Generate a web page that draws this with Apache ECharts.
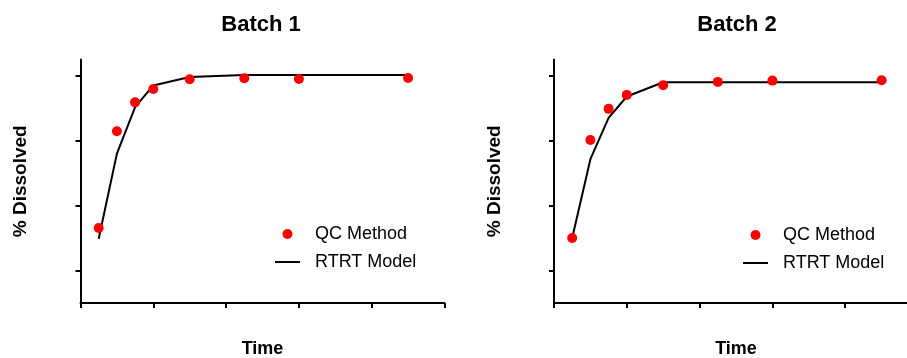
<!DOCTYPE html>
<html>
<head>
<meta charset="utf-8">
<script src="https://cdn.jsdelivr.net/npm/echarts@6/dist/echarts.min.js"></script>
<style>html,body{margin:0;padding:0;background:#fff}#c{width:907px;height:358px}</style>
</head>
<body>
<div id="c"></div>
<script>
var titles = ['Batch 1', 'Batch 2'];
var seriesNames = ['QC Method', 'RTRT Model'];
var time = [5, 10, 15, 20, 30, 45, 60, 90];
var qc1 = [53.1, 82.9, 91.8, 95.9, 98.9, 99.2, 99.0, 99.3];
var model1 = [49.8, 76.0, 90.3, 97.0, 99.6, 100.2, 100.2, 100.2];
var qc2 = [50.0, 80.2, 89.8, 94.1, 97.1, 98.1, 98.5, 98.6];
var model2 = [50.0, 74.3, 87.0, 93.6, 98.0, 98.0, 98.0, 98.0];
var yTicks = [40, 60, 80, 100];
var xLabel = 'Time';
var yLabel = '% Dissolved';

var FONT = '"Liberation Sans", Arial, sans-serif';
function pairs(xs, ys) { return xs.map(function (x, i) { return [x, ys[i]]; }); }

var grids = [
  { left: 80.5, top: 59.5, width: 364, height: 243.5, containLabel: false, outerBoundsMode: 'none' },
  { left: 554, top: 59.5, width: 364, height: 243.5, containLabel: false, outerBoundsMode: 'none' }
];
var titleCenters = [261, 737];
var legendPos = [{ left: 275, top: 225 }, { left: 743, top: 226 }];
var qcData = [qc1, qc2];
var modelData = [model1, model2];

var option = {
  animation: false,
  backgroundColor: '#ffffff',
  title: titles.map(function (t, i) {
    return { text: t, left: titleCenters[i], top: 14, textAlign: 'center', padding: 0,
      textStyle: { fontFamily: FONT, fontWeight: 'bold', fontSize: 22, color: '#000' } };
  }),
  grid: grids,
  legend: legendPos.map(function (p) {
    return {
      left: p.left, top: p.top, orient: 'vertical', itemGap: 10, itemWidth: 25, itemHeight: 10,
      padding: 0, selectedMode: false,
      data: [
        { name: seriesNames[0], icon: 'circle', itemStyle: { color: '#ff0000', opacity: 1 } },
        { name: seriesNames[1], icon: 'path://M0,0 L25,0 L25,2 L0,2 Z', itemStyle: { color: '#000' } }
      ],
      textStyle: { fontFamily: FONT, fontSize: 18, color: '#000', lineHeight: 18, padding: [0, 0, 0, 10] }
    };
  }),
  xAxis: grids.map(function (g, i) {
    return {
      type: 'value', gridIndex: i, min: 0, max: 100, interval: 20,
      name: xLabel, nameLocation: 'middle', nameGap: 37,
      nameTextStyle: { fontFamily: FONT, fontWeight: 'bold', fontSize: 18, color: '#000' },
      axisLine: { show: true, onZero: false, lineStyle: { color: '#000', width: 2 } },
      axisTick: { show: true, inside: false, length: 5, lineStyle: { color: '#000', width: 2 } },
      axisLabel: { show: false }, splitLine: { show: false }
    };
  }),
  yAxis: grids.map(function (g, i) {
    return {
      type: 'value', gridIndex: i, min: 30, max: 105,
      name: yLabel, nameLocation: 'middle', nameGap: 50, nameRotate: 90,
      nameTextStyle: { fontFamily: FONT, fontWeight: 'bold', fontSize: 19, color: '#000' },
      axisLine: { show: true, onZero: false, lineStyle: { color: '#000', width: 2 } },
      axisTick: { show: true, inside: false, length: 5, customValues: yTicks, lineStyle: { color: '#000', width: 2 } },
      axisLabel: { show: false }, splitLine: { show: false }
    };
  }),
  series: []
};

[0, 1].forEach(function (i) {
  option.series.push({
    name: seriesNames[1], type: 'line', xAxisIndex: i, yAxisIndex: i,
    data: pairs(time, modelData[i]), symbol: 'none', showSymbol: false,
    lineStyle: { color: '#000', width: 2 }, itemStyle: { color: '#000' }, z: 2
  });
  option.series.push({
    name: seriesNames[0], type: 'scatter', xAxisIndex: i, yAxisIndex: i,
    data: pairs(time, qcData[i]), symbol: 'circle', symbolSize: 10,
    itemStyle: { color: '#ff0000', opacity: 1 }, z: 3
  });
});

var chart = echarts.init(document.getElementById('c'), null, { renderer: 'canvas' });
chart.setOption(option);
</script>
</body>
</html>
